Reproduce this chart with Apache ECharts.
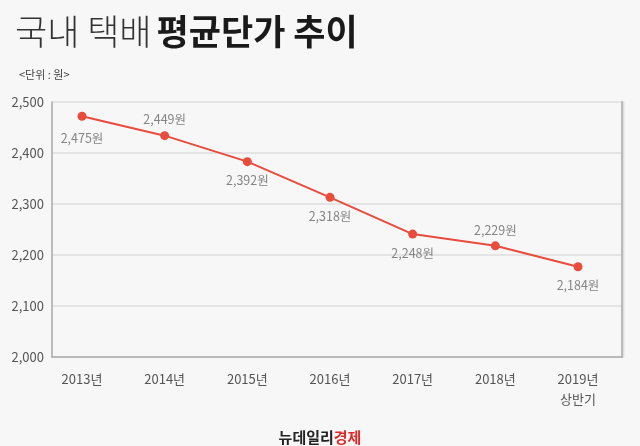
<!DOCTYPE html>
<html>
<head>
<meta charset="utf-8">
<script src="https://cdn.jsdelivr.net/npm/echarts@6/dist/echarts.min.js"></script>
<style>
  html, body { margin: 0; padding: 0; background: #f7f7f7; }
  #chart { width: 640px; height: 446px; }
</style>
</head>
<body>
<div id="chart"></div>
<script>
const years = ['2013년', '2014년', '2015년', '2016년', '2017년', '2018년', '2019년\n상반기']
// where the points sit on the picture
const prices = [2472, 2434, 2383, 2313, 2241, 2218, 2177]
// what the labels print
const priceLabels = [2475, 2449, 2392, 2318, 2248, 2229, 2184]
const labelAbove = [false, true, false, false, false, true, false]
const yTicks = [2000, 2100, 2200, 2300, 2400, 2500]

const FONT = '"Noto Sans CJK KR", "Noto Sans", sans-serif'
const RED = '#e84c3d'

const fmt = v => v.toLocaleString('en-US')

const chart = echarts.init(document.getElementById('chart'), null, { renderer: 'canvas' })

chart.setOption({
  backgroundColor: '#f7f7f7',
  animation: false,
  title: [{
    left: 10,
    top: 9,
    text: '{l|국내 택배} {b|평균단가 추이}',
    textStyle: {
      rich: {
        l: { fontFamily: FONT, fontSize: 35, fontWeight: 300, color: '#333' },
        b: { fontFamily: FONT, fontSize: 35, fontWeight: 'bold', color: '#1a1a1a' }
      }
    }
  }, {
    left: 14,
    top: 64,
    text: '<단위 : 원>',
    textStyle: { fontFamily: FONT, fontSize: 11, fontWeight: 'normal', color: '#444' }
  }, {
    left: 'center',
    top: 425,
    text: '{a|뉴데일리}{b|경제}',
    textStyle: {
      rich: {
        a: { fontFamily: FONT, fontSize: 15, fontWeight: 'bold', color: '#222' },
        b: { fontFamily: FONT, fontSize: 15, fontWeight: 'bold', color: '#e02a2a' }
      }
    }
  }],
  grid: [
    { left: 52, right: 18, top: 102, bottom: 89, show: true, borderWidth: 0 },
    { left: 82, right: 62, top: 102, bottom: 89 }
  ],
  xAxis: [{
    gridIndex: 0,
    type: 'category',
    data: years,
    axisLine: { show: true, lineStyle: { color: '#aaa', width: 1.5 } },
    axisTick: { show: false },
    axisLabel: { show: false },
    splitLine: { show: false }
  }, {
    gridIndex: 1,
    type: 'category',
    data: years,
    boundaryGap: false,
    axisLine: { show: false },
    axisTick: { show: false },
    axisLabel: {
      fontFamily: FONT,
      fontSize: 13,
      color: '#555',
      margin: 12,
      lineHeight: 20,
      interval: 0
    }
  }],
  yAxis: [{
    gridIndex: 0,
    type: 'value',
    min: 2000,
    max: 2500,
    interval: 100,
    axisLine: { show: true, lineStyle: { color: '#aaa', width: 1.5 } },
    axisTick: { show: false },
    axisLabel: {
      fontFamily: FONT,
      fontSize: 13,
      color: '#555',
      margin: 8,
      formatter: v => yTicks.includes(v) ? fmt(v) : ''
    },
    splitLine: { lineStyle: { color: '#dedede', width: 1.5 } }
  }, {
    gridIndex: 0,
    type: 'value',
    position: 'right',
    min: 2000,
    max: 2500,
    axisLine: { show: true, lineStyle: { color: '#bbb', width: 2, shadowColor: 'rgba(0,0,0,0.15)', shadowBlur: 2, shadowOffsetX: 1 } },
    axisTick: { show: false },
    axisLabel: { show: false },
    splitLine: { show: false }
  }, {
    gridIndex: 1,
    type: 'value',
    min: 2000,
    max: 2500,
    show: false
  }],
  series: [{
    type: 'line',
    xAxisIndex: 1,
    yAxisIndex: 2,
    data: prices,
    symbol: 'circle',
    symbolSize: 9,
    itemStyle: { color: RED },
    lineStyle: { color: RED, width: 2 },
    label: {
      show: true,
      fontFamily: FONT,
      fontSize: 12.5,
      color: '#858585',
      formatter: p => fmt(priceLabels[p.dataIndex]) + '원'
    },
    labelLayout: p => {
      const cx = p.rect.x + p.rect.width / 2
      const cy = p.rect.y + p.rect.height / 2
      const i = p.dataIndex
      return {
        x: cx,
        y: labelAbove[i] ? cy - 16 : cy + (i === 0 ? 22 : 19),
        align: 'center',
        verticalAlign: 'middle'
      }
    }
  }]
})
</script>
</body>
</html>
